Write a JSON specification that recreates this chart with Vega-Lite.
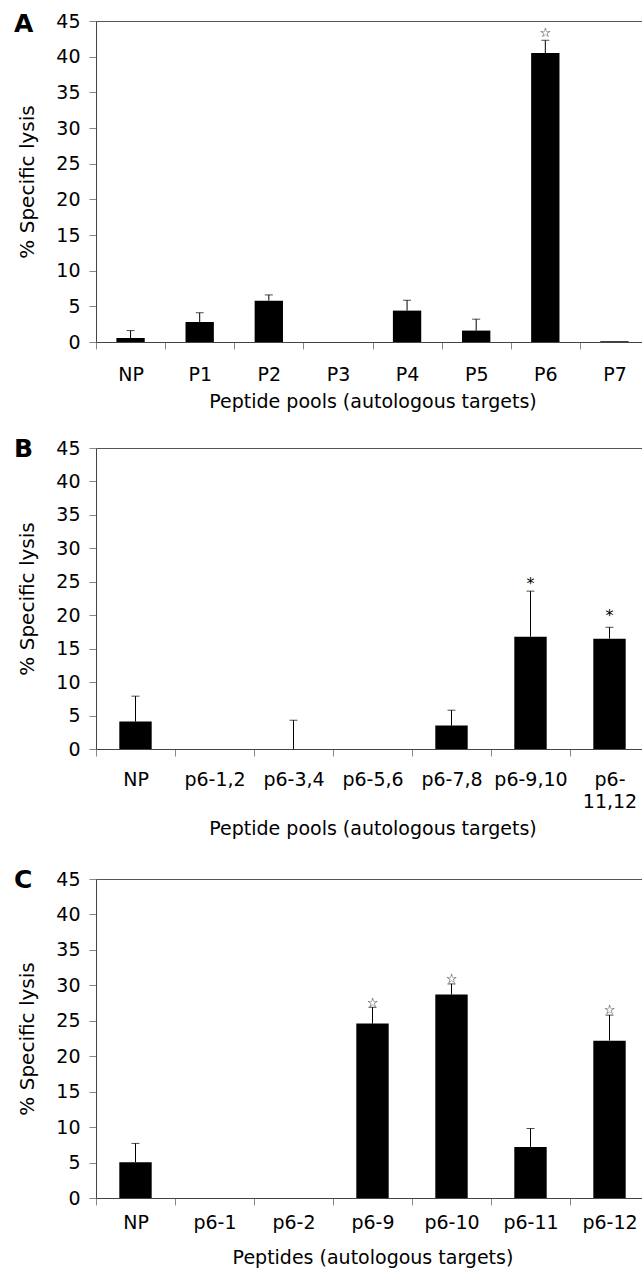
{
  "$schema": "https://vega.github.io/schema/vega-lite/v6.json",
  "padding": {"left": 13, "top": 11, "right": 0, "bottom": 0},
  "autosize": {"type": "pad"},
  "config": {
    "font": "DejaVu Sans",
    "view": {"stroke": "#555", "strokeWidth": 1},
    "axis": {"labelFont": "DejaVu Sans", "titleFont": "DejaVu Sans", "labelFontSize": 19, "titleFontSize": 19, "titleFontWeight": "normal", "labelColor": "#000", "titleColor": "#000", "domainColor": "#444", "tickColor": "#888", "tickSize": 7, "grid": false, "labelOverlap": false},
    "axisX": {"labelAngle": 0, "tickBand": "extent", "labelLineHeight": 22},
    "axisY": {"labelPadding": 9, "titlePadding": 18, "titleFontSize": 20, "values": [0,5,10,15,20,25,30,35,40,45]},
    "title": {"font": "DejaVu Sans", "fontSize": 25, "fontWeight": "bold", "anchor": "start", "frame": "group", "color": "#000"}
  },
  "datasets": {
    "A": [
      {"cat": "NP", "v": 0.56, "hi": 1.6},
      {"cat": "P1", "v": 2.8, "hi": 4.1},
      {"cat": "P2", "v": 5.8, "hi": 6.6},
      {"cat": "P3", "v": 0, "hi": null},
      {"cat": "P4", "v": 4.4, "hi": 5.85},
      {"cat": "P5", "v": 1.6, "hi": 3.2},
      {"cat": "P6", "v": 40.5, "hi": 42.3, "star": 43.3, "sym": "☆"},
      {"cat": "P7", "v": 0.12, "hi": null}
    ],
    "B": [
      {"cat": "NP", "v": 4.1, "hi": 7.9},
      {"cat": "p6-1,2", "v": 0, "hi": null},
      {"cat": "p6-3,4", "v": 0, "hi": 4.3},
      {"cat": "p6-5,6", "v": 0, "hi": null},
      {"cat": "p6-7,8", "v": 3.5, "hi": 5.8},
      {"cat": "p6-9,10", "v": 16.8, "hi": 23.6, "star": 25.2, "sym": "*"},
      {"cat": "p6-11,12", "v": 16.5, "hi": 18.2, "star": 20.5, "sym": "*"}
    ],
    "C": [
      {"cat": "NP", "v": 5.05, "hi": 7.7},
      {"cat": "p6-1", "v": 0, "hi": null},
      {"cat": "p6-2", "v": 0, "hi": null},
      {"cat": "p6-9", "v": 24.6, "hi": 26.9, "star": 27.5, "sym": "☆"},
      {"cat": "p6-10", "v": 28.7, "hi": 30.2, "star": 30.9, "sym": "☆"},
      {"cat": "p6-11", "v": 7.2, "hi": 9.8},
      {"cat": "p6-12", "v": 22.2, "hi": 25.8, "star": 26.5, "sym": "☆"}
    ]
  },
  "spacing": 24,
  "vconcat": [
    {
      "width": 553, "height": 321,
      "title": {"text": "A", "dx": -82, "dy": 29},
      "data": {"name": "A"},
      "encoding": {
        "x": {"field": "cat", "type": "nominal", "sort": null, "scale": {"paddingInner": 0, "paddingOuter": 0}, "axis": {"title": "Peptide pools (autologous targets)", "labelPadding": 16, "titlePadding": 8}}
      },
      "layer": [
        {"mark": {"type": "bar", "color": "black", "width": {"band": 0.41}}, "encoding": {"y": {"field": "v", "type": "quantitative", "scale": {"domain": [0, 45], "nice": false}, "axis": {"title": "% Specific lysis"}}}},
        {"transform": [{"filter": "datum.hi != null"}], "mark": {"type": "rule", "color": "black", "strokeWidth": 1}, "encoding": {"y": {"field": "v", "type": "quantitative"}, "y2": {"field": "hi"}}},
        {"transform": [{"filter": "datum.hi != null"}], "mark": {"type": "tick", "color": "black", "thickness": 1, "size": 8}, "encoding": {"y": {"field": "hi", "type": "quantitative"}}},
        {"transform": [{"filter": "datum.star != null"}], "mark": {"type": "text", "fontSize": 13, "baseline": "middle", "color": "black"}, "encoding": {"y": {"field": "star", "type": "quantitative"}, "text": {"field": "sym"}}}
      ]
    },
    {
      "spacing": 28,
      "vconcat": [
        {
          "width": 553, "height": 301,
          "title": {"text": "B", "dx": -82, "dy": 27},
          "data": {"name": "B"},
          "encoding": {
            "x": {"field": "cat", "type": "nominal", "sort": null, "scale": {"paddingInner": 0, "paddingOuter": 0}, "axis": {"title": "Peptide pools (autologous targets)", "labelPadding": 14, "titlePadding": 8, "labelExpr": "datum.value == 'p6-11,12' ? ['p6-', '11,12'] : datum.value"}}
          },
          "layer": [
            {"mark": {"type": "bar", "color": "black", "width": {"band": 0.41}}, "encoding": {"y": {"field": "v", "type": "quantitative", "scale": {"domain": [0, 45], "nice": false}, "axis": {"title": "% Specific lysis"}}}},
            {"transform": [{"filter": "datum.hi != null"}], "mark": {"type": "rule", "color": "black", "strokeWidth": 1}, "encoding": {"y": {"field": "v", "type": "quantitative"}, "y2": {"field": "hi"}}},
            {"transform": [{"filter": "datum.hi != null"}], "mark": {"type": "tick", "color": "black", "thickness": 1, "size": 8}, "encoding": {"y": {"field": "hi", "type": "quantitative"}}},
            {"transform": [{"filter": "datum.star != null"}], "mark": {"type": "text", "fontSize": 16, "baseline": "middle", "dy": 4, "color": "black"}, "encoding": {"y": {"field": "star", "type": "quantitative"}, "text": {"field": "sym"}}}
          ]
        },
        {
          "width": 553, "height": 319,
          "title": {"text": "C", "dx": -82, "dy": 27},
          "data": {"name": "C"},
          "encoding": {
            "x": {"field": "cat", "type": "nominal", "sort": null, "scale": {"paddingInner": 0, "paddingOuter": 0}, "axis": {"title": "Peptides (autologous targets)", "labelPadding": 8, "titlePadding": 16}}
          },
          "layer": [
            {"mark": {"type": "bar", "color": "black", "width": {"band": 0.41}}, "encoding": {"y": {"field": "v", "type": "quantitative", "scale": {"domain": [0, 45], "nice": false}, "axis": {"title": "% Specific lysis"}}}},
            {"transform": [{"filter": "datum.hi != null"}], "mark": {"type": "rule", "color": "black", "strokeWidth": 1}, "encoding": {"y": {"field": "v", "type": "quantitative"}, "y2": {"field": "hi"}}},
            {"transform": [{"filter": "datum.hi != null"}], "mark": {"type": "tick", "color": "black", "thickness": 1, "size": 8}, "encoding": {"y": {"field": "hi", "type": "quantitative"}}},
            {"transform": [{"filter": "datum.star != null"}], "mark": {"type": "text", "fontSize": 13, "baseline": "middle", "color": "black"}, "encoding": {"y": {"field": "star", "type": "quantitative"}, "text": {"field": "sym"}}}
          ]
        }
      ]
    }
  ]
}
